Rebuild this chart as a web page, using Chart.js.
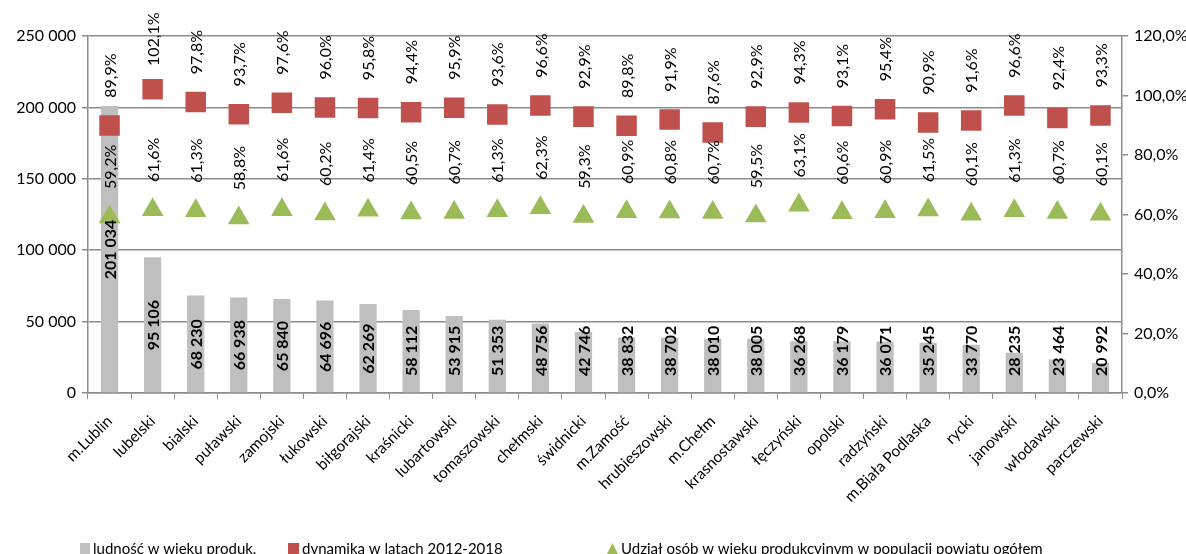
<!DOCTYPE html>
<html>
<head>
<meta charset="utf-8">
<script src="https://cdn.jsdelivr.net/npm/chart.js@4"></script>
<style>
  html, body { margin: 0; padding: 0; background: #fff; }
  #wrap { width: 1186px; height: 554px; }
</style>
</head>
<body>
<div id="wrap"><canvas id="chart" width="1186" height="554"></canvas></div>
<script>
var categories = ['m.Lublin', 'lubelski', 'bialski', 'puławski', 'zamojski', 'łukowski', 'biłgorajski', 'kraśnicki',
    'lubartowski', 'tomaszowski', 'chełmski', 'świdnicki', 'm.Zamość', 'hrubieszowski', 'm.Chełm', 'krasnostawski',
    'łęczyński', 'opolski', 'radzyński', 'm.Biała Podlaska', 'rycki', 'janowski', 'włodawski', 'parczewski'];
var ludnosc = [201034, 95106, 68230, 66938, 65840, 64696, 62269, 58112, 53915, 51353, 48756, 42746,
    38832, 38702, 38010, 38005, 36268, 36179, 36071, 35245, 33770, 28235, 23464, 20992];
var dynamika = [89.9, 102.1, 97.8, 93.7, 97.6, 96.0, 95.8, 94.4, 95.9, 93.6, 96.6, 92.9,
    89.8, 91.9, 87.6, 92.9, 94.3, 93.1, 95.4, 90.9, 91.6, 96.6, 92.4, 93.3];
var udzial = [59.2, 61.6, 61.3, 58.8, 61.6, 60.2, 61.4, 60.5, 60.7, 61.3, 62.3, 59.3,
    60.9, 60.8, 60.7, 59.5, 63.1, 60.6, 60.9, 61.5, 60.1, 61.3, 60.7, 60.1];
var leftTicks = [0, 50000, 100000, 150000, 200000, 250000];
var rightTicks = [0, 20, 40, 60, 80, 100, 120];
var legendLabels = ['ludność w wieku produk.', 'dynamika w latach 2012-2018',
    'Udział osób w wieku produkcyjnym w populacji powiatu ogółem'];

var GRAY = '#bfbfbf', RED = '#c0504d', GREEN = '#9bbb59', LINE = '#8c8c8c';

function thousands(v) {
    return String(v).replace(/\B(?=(\d{3})+(?!\d))/g, ' ');
}
function pct(v) {
    return v.toFixed(1).replace('.', ',') + '%';
}

Chart.defaults.font.family = 'Lato';
Chart.defaults.color = '#000';

// labels drawn rotated, like the original
var labelPlugin = {
    id: 'labels',
    afterDatasetsDraw: function(chart) {
        var ctx = chart.ctx;
        var bottom = chart.chartArea.bottom;
        ctx.save();
        ctx.fillStyle = '#000';
        ctx.textAlign = 'center';
        ctx.textBaseline = 'middle';

        ctx.font = 'bold 16px Lato';
        chart.getDatasetMeta(0).data.forEach(function(bar, i) {
            var txt = thousands(ludnosc[i]);
            var w = ctx.measureText(txt).width;
            var cy = Math.min((bar.y + bottom) / 2, bottom - 17 - w / 2);
            ctx.save();
            ctx.translate(bar.x, cy);
            ctx.rotate(-Math.PI / 2);
            ctx.fillText(txt, 0, 1);
            ctx.restore();
        });

        ctx.font = '16px Lato';
        [[1, dynamika], [2, udzial]].forEach(function(d) {
            chart.getDatasetMeta(d[0]).data.forEach(function(pt, i) {
                ctx.save();
                ctx.translate(pt.x, pt.y - 50);
                ctx.rotate(-Math.PI / 2);
                ctx.fillText(pct(d[1][i]), 0, 1);
                ctx.restore();
            });
        });
        ctx.restore();
    },
    afterDraw: function(chart) {
        var ctx = chart.ctx;
        var y = 554;
        ctx.save();
        ctx.font = '15px Lato';
        ctx.fillStyle = '#000';
        ctx.textBaseline = 'alphabetic';
        ctx.textAlign = 'left';

        ctx.fillStyle = GRAY;
        ctx.fillRect(80, 543, 10, 11);
        ctx.fillStyle = '#000';
        ctx.fillText(legendLabels[0], 93, y);

        ctx.fillStyle = RED;
        ctx.fillRect(288, 543, 11, 11);
        ctx.fillStyle = '#000';
        ctx.fillText(legendLabels[1], 302, y);

        ctx.fillStyle = GREEN;
        ctx.beginPath();
        ctx.moveTo(612.5, 543);
        ctx.lineTo(618, 554);
        ctx.lineTo(607, 554);
        ctx.closePath();
        ctx.fill();
        ctx.fillStyle = '#000';
        ctx.fillText(legendLabels[2], 621, y);
        ctx.restore();
    }
};

new Chart(document.getElementById('chart').getContext('2d'), {
    type: 'bar',
    data: {
        labels: categories,
        datasets: [{
            type: 'bar',
            label: legendLabels[0],
            data: ludnosc,
            backgroundColor: GRAY,
            yAxisID: 'y',
            barPercentage: 0.4,
            categoryPercentage: 1,
            order: 3
        }, {
            type: 'line',
            label: legendLabels[1],
            data: dynamika,
            yAxisID: 'y1',
            showLine: false,
            pointStyle: 'rect',
            pointRadius: 14.5,
            pointBackgroundColor: RED,
            pointBorderColor: RED,
            pointBorderWidth: 0,
            order: 2
        }, {
            type: 'line',
            label: legendLabels[2],
            data: udzial,
            yAxisID: 'y1',
            showLine: false,
            pointStyle: 'triangle',
            pointRadius: 12.5,
            pointBackgroundColor: GREEN,
            pointBorderColor: GREEN,
            pointBorderWidth: 0,
            order: 1
        }]
    },
    options: {
        responsive: false,
        animation: false,
        layout: { padding: { top: 36, left: 0, right: 0, bottom: 0 } },
        plugins: {
            legend: { display: false },
            tooltip: { enabled: false }
        },
        scales: {
            x: {
                grid: { display: true, drawOnChartArea: false, drawTicks: true, tickLength: 6, color: LINE, offset: true },
                border: { display: true, color: LINE, width: 1.5 },
                ticks: { maxRotation: 45, minRotation: 45, autoSkip: false, padding: 13, font: { size: 15.5 }, color: '#000' },
                afterFit: function(s) { s.height = 161; }
            },
            y: {
                position: 'left',
                min: 0,
                max: 250000,
                afterBuildTicks: function(s) { s.ticks = leftTicks.map(function(v) { return { value: v }; }); },
                grid: { color: LINE, lineWidth: 1.5, tickLength: 6 },
                border: { display: true, color: LINE, width: 1.5 },
                ticks: { font: { size: 16 }, padding: 6, callback: function(v) { return thousands(v); } },
                afterFit: function(s) { s.width = 88; }
            },
            y1: {
                position: 'right',
                min: 0,
                max: 120,
                afterBuildTicks: function(s) { s.ticks = rightTicks.map(function(v) { return { value: v }; }); },
                grid: { drawOnChartArea: false, drawTicks: true, tickLength: 6, color: LINE, lineWidth: 1.5 },
                border: { display: true, color: LINE, width: 1.5 },
                ticks: { font: { size: 16 }, padding: 6, callback: function(v) { return pct(v); } },
                afterFit: function(s) { s.width = 64; }
            }
        }
    },
    plugins: [labelPlugin]
});
</script>
</body>
</html>
